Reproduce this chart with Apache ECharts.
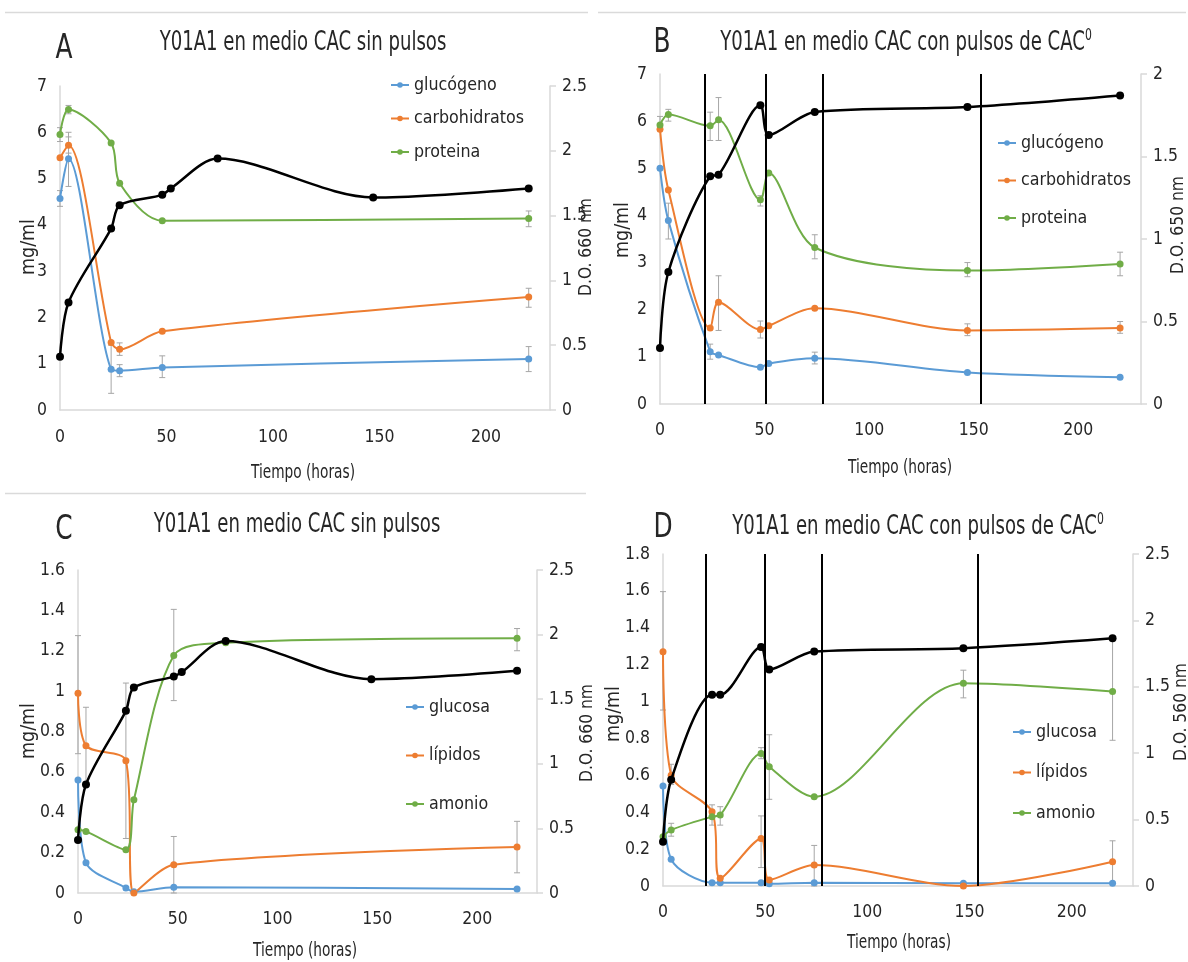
<!DOCTYPE html>
<html>
<head>
<meta charset="utf-8">
<script src="https://cdn.jsdelivr.net/npm/echarts@6/dist/echarts.min.js"></script>
<style>html,body{margin:0;padding:0;background:#fff}#c{width:1188px;height:962px}</style>
</head>
<body>
<div id="c"></div>
<script>
// ---------------- DATA ----------------
const hourAxis = [0, 230, 50];           // min, max, step (labels 0..200)
const leftAxisA = [0, 7, 1], rightAxisA = [0, 2.5, 0.5];
const leftAxisB = [0, 7, 1], rightAxisB = [0, 2, 0.5];
const leftAxisC = [0, 1.6, 0.2], rightAxisC = [0, 2.5, 0.5];
const leftAxisD = [0, 1.8, 0.2], rightAxisD = [0, 2.5, 0.5];

// Panel A
const tA = [0, 4, 24, 28, 48, 220];
const glucogenoA = [4.57, 5.43, 0.88, 0.85, 0.92, 1.10];
const carbohidratosA = [5.45, 5.72, 1.46, 1.31, 1.70, 2.44];
const proteinaA = [5.95, 6.49, 5.77, 4.90, 4.09, 4.14];
const tOD = [0, 4, 24, 28, 48, 52, 74, 147, 220];
const odA = [0.41, 0.83, 1.40, 1.58, 1.66, 1.71, 1.94, 1.64, 1.71];
const errorsA = [[0,4.40,4.74],[4,4.83,6.00],[24,0.36,1.40],[28,0.72,0.98],[48,0.70,1.17],[220,0.83,1.37],
  [4,5.55,5.90],[28,1.18,1.45],[220,2.22,2.63],[0,5.80,6.10],[4,6.40,6.58],[220,3.96,4.30]];

// Panel B
const tB = [0, 4, 24, 28, 48, 52, 74, 147, 220];
const glucogenoB = [5.00, 3.89, 1.11, 1.04, 0.78, 0.86, 0.97, 0.67, 0.57];
const carbohidratosB = [5.83, 4.54, 1.61, 2.16, 1.58, 1.66, 2.03, 1.56, 1.61];
const proteinaB = [5.92, 6.14, 5.90, 6.03, 4.33, 4.90, 3.32, 2.83, 2.97];
const odB = [0.34, 0.80, 1.38, 1.39, 1.81, 1.63, 1.77, 1.80, 1.87];
const pulsesB = [21.5, 50.5, 78, 153.5];
const errorsB = [[0,5.80,6.10],[4,6.00,6.25],[24,5.59,6.19],[28,5.59,6.50],[48,4.20,4.42],[74,3.08,3.59],
  [147,2.70,3.00],[220,2.72,3.22],[4,3.50,4.26],[24,0.95,1.27],[74,0.85,1.10],[28,1.56,2.72],
  [48,1.40,1.76],[147,1.45,1.70],[220,1.50,1.75]];

// Panel C
const tGlucosaC = [0, 4, 24, 28, 48, 220];
const glucosaC = [0.56, 0.15, 0.025, 0.006, 0.028, 0.02];
const tLipidosC = [0, 4, 24, 28, 48, 220];
const lipidosC = [0.99, 0.73, 0.655, 0.0, 0.14, 0.228];
const tAmonioC = [0, 4, 24, 28, 48, 74, 220];
const amonioC = [0.313, 0.305, 0.214, 0.462, 1.176, 1.24, 1.262];
const odC = [0.41, 0.84, 1.41, 1.59, 1.675, 1.71, 1.95, 1.655, 1.72];
const errorsC = [[0,0.69,1.275],[4,0.53,0.92],[24,0.27,1.04],[48,0.0,0.28],[48,0.953,1.405],
  [220,0.10,0.355],[220,1.20,1.31]];

// Panel D
const tD = [0, 4, 24, 28, 48, 52, 74, 147, 220];
const glucosaD = [0.542, 0.145, 0.018, 0.018, 0.018, 0.012, 0.018, 0.015, 0.015];
const lipidosD = [1.27, 0.60, 0.403, 0.042, 0.258, 0.033, 0.114, 0.0, 0.132];
const amonioD = [0.267, 0.304, 0.376, 0.385, 0.719, 0.647, 0.484, 1.099, 1.054];
const odD = [0.334, 0.80, 1.44, 1.44, 1.80, 1.63, 1.765, 1.79, 1.865];
const pulsesD = [21, 50, 77.5, 154];
const errorsD = [[0,0.954,1.596],[4,0.55,0.66],[24,0.33,0.44],[28,0.33,0.43],[4,0.27,0.34],
  [48,0.10,0.38],[48,0.69,0.75],[52,0.47,0.82],[74,0.0,0.22],[147,1.02,1.17],[220,0.79,1.343],[220,0.02,0.245]];

// ---------------- FONTS ----------------
const ctx = document.createElement('canvas').getContext('2d');
function w(font, s) { ctx.font = font; return ctx.measureText(s).width; }
function pickFont() {
  const s = 'mmmmwwwwiiiiAB0123456789';
  const m = w('40px monospace', s), se = w('40px serif', s);
  for (const f of ['Liberation Sans Narrow', 'DejaVu Sans Condensed', 'Liberation Sans']) {
    if (w("40px '" + f + "', monospace", s) !== m || w("40px '" + f + "', serif", s) !== se) return f;
  }
  return 'sans-serif';
}
const FONT = pickFont();
function fit(s, target) { return 100 * target / w("100px '" + FONT + "'", s); }
const fs = {
  tick: fit('200', 30), legend: fit('carbohidratos', 110), xname: fit('Tiempo (horas)', 104),
  title: fit('Y01A1 en medio CAC sin pulsos', 287), yname: fit('mg/ml', 56),
  odname: fit('D.O. 660 nm', 98), letter: fit('A', 17)
};
const TXT = '#262626', AX = '#D9D9D9';
const BLUE = '#5B9BD5', ORANGE = '#ED7D31', GREEN = '#70AD47';
const SMOOTH = 0.3;

// ---------------- LAYOUT ----------------
const grids = [
  {left: 60, top: 86, width: 490, height: 324},
  {left: 660, top: 74, width: 481, height: 330},
  {left: 78, top: 570, width: 459, height: 323},
  {left: 663, top: 554, width: 470, height: 332}
];
const xMargins = [19, 18, 17.5, 17.5];

const xAxes = grids.map((g, i) => ({
  type: 'value', gridIndex: i, min: hourAxis[0], max: hourAxis[1], interval: hourAxis[2],
  axisLine: {show: true, onZero: false, lineStyle: {color: AX, width: 1.5}},
  axisTick: {show: false}, splitLine: {show: false},
  axisLabel: {margin: xMargins[i], fontSize: fs.tick, fontFamily: FONT, color: TXT, showMaxLabel: false}
}));
const leftDefs = [leftAxisA, leftAxisB, leftAxisC, leftAxisD];
const rightDefs = [rightAxisA, rightAxisB, rightAxisC, rightAxisD];
const yAxes = [];
grids.forEach((g, i) => {
  yAxes.push({
    type: 'value', gridIndex: i, position: 'left', min: leftDefs[i][0], max: leftDefs[i][1], interval: leftDefs[i][2],
    axisLine: {show: true, lineStyle: {color: AX, width: 1.5}}, axisTick: {show: false}, splitLine: {show: false},
    axisLabel: {margin: 13, fontSize: fs.tick, fontFamily: FONT, color: TXT}
  });
  yAxes.push({
    type: 'value', gridIndex: i, position: 'right', min: rightDefs[i][0], max: rightDefs[i][1], interval: rightDefs[i][2],
    axisLine: {show: true, lineStyle: {color: AX, width: 1.5}},
    axisTick: {show: true, length: 6, lineStyle: {color: AX, width: 1.5}}, splitLine: {show: false},
    axisLabel: {margin: 12, fontSize: fs.tick, fontFamily: FONT, color: TXT}
  });
});

function pts(ts, vals) { return ts.map((t, k) => [t, vals[k]]); }
function line(name, ts, vals, color, gi) {
  return {
    type: 'line', name, xAxisIndex: gi, yAxisIndex: 2 * gi, data: pts(ts, vals), smooth: SMOOTH,
    symbol: 'circle', symbolSize: 7, showSymbol: true, lineStyle: {color, width: 2},
    itemStyle: {color}, emphasis: {disabled: true}, z: 3, animation: false
  };
}
function od(vals, gi, pulses) {
  const s = {
    type: 'line', name: 'D.O.', xAxisIndex: gi, yAxisIndex: 2 * gi + 1, data: pts(tOD, vals), smooth: SMOOTH,
    symbol: 'circle', symbolSize: 8, lineStyle: {color: '#000', width: 2.5}, itemStyle: {color: '#000'},
    emphasis: {disabled: true}, z: 4, animation: false
  };
  if (pulses) {
    s.markLine = {
      silent: true, symbol: ['none', 'none'], label: {show: false}, animation: false,
      lineStyle: {color: '#000', width: 2, type: 'solid'}, emphasis: {disabled: true},
      data: pulses.map(v => ({xAxis: v}))
    };
  }
  return s;
}
function errs(data, gi) {
  return {
    type: 'custom', xAxisIndex: gi, yAxisIndex: 2 * gi, data, z: 2, silent: true, animation: false,
    encode: {x: 0, y: [1, 2]},
    renderItem: function (params, api) {
      const x = api.value(0), lo = api.value(1), hi = api.value(2);
      const a = api.coord([x, hi]), b = api.coord([x, lo]);
      const st = {stroke: '#A6A6A6', lineWidth: 1};
      return {type: 'group', children: [
        {type: 'line', shape: {x1: a[0], y1: a[1], x2: b[0], y2: b[1]}, style: st},
        {type: 'line', shape: {x1: a[0] - 3, y1: a[1], x2: a[0] + 3, y2: a[1]}, style: st},
        {type: 'line', shape: {x1: b[0] - 3, y1: b[1], x2: b[0] + 3, y2: b[1]}, style: st}
      ]};
    }
  };
}

const series = [
  errs(errorsA, 0),
  line('glucógeno', tA, glucogenoA, BLUE, 0),
  line('carbohidratos', tA, carbohidratosA, ORANGE, 0),
  line('proteina', tA, proteinaA, GREEN, 0),
  od(odA, 0),
  errs(errorsB, 1),
  line('glucógeno', tB, glucogenoB, BLUE, 1),
  line('carbohidratos', tB, carbohidratosB, ORANGE, 1),
  line('proteina', tB, proteinaB, GREEN, 1),
  od(odB, 1, pulsesB),
  errs(errorsC, 2),
  line('glucosa', tGlucosaC, glucosaC, BLUE, 2),
  line('lípidos', tLipidosC, lipidosC, ORANGE, 2),
  line('amonio', tAmonioC, amonioC, GREEN, 2),
  od(odC, 2),
  errs(errorsD, 3),
  line('glucosa', tD, glucosaD, BLUE, 3),
  line('lípidos', tD, lipidosD, ORANGE, 3),
  line('amonio', tD, amonioD, GREEN, 3),
  od(odD, 3, pulsesD)
];

const LH = Math.round(fs.legend + 2);
function legend(names, left, firstCenter, spacing) {
  return {
    data: names, orient: 'vertical', left, top: firstCenter - LH / 2, padding: 0,
    itemWidth: 18, itemHeight: 7, itemGap: spacing - LH, selectedMode: false,
    textStyle: {fontSize: fs.legend, fontFamily: FONT, color: TXT, lineHeight: LH}
  };
}
const legends = [
  legend(['glucógeno', 'carbohidratos', 'proteina'], 390, 85, 33.5),
  legend(['glucógeno', 'carbohidratos', 'proteina'], 997, 143, 37.5),
  legend(['glucosa', 'lípidos', 'amonio'], 405, 707, 48.5),
  legend(['glucosa', 'lípidos', 'amonio'], 1012, 732, 40.5)
];

function txt(text, x, y, size, rot, sy, extra) {
  const st = {text, fontSize: size, fontFamily: FONT, fill: TXT, align: 'center', verticalAlign: 'middle',
    textAlign: 'center', textVerticalAlign: 'middle'};
  if (extra) Object.assign(st, extra);
  const el = {type: 'text', x, y, rotation: rot || 0, silent: true, style: st};
  if (sy) el.scaleY = sy;
  return el;
}
const supRich = {sup: {fontSize: fs.title * 0.6, fontFamily: FONT, fill: TXT, padding: [0, 0, fs.title * 0.55, 0]}};
function hline(x1, x2, y) {
  return {type: 'line', silent: true, shape: {x1, y1: y, x2, y2: y}, style: {stroke: '#DADADA', lineWidth: 1.5}};
}
const R = Math.PI / 2, TS = 1.3;
const graphics = [
  hline(5, 588, 12.5), hline(598, 1186, 12.5), hline(5, 586, 493.5),
  txt('Y01A1 en medio CAC sin pulsos', 303, 43, fs.title, 0, TS),
  txt('Y01A1 en medio CAC con pulsos de CAC{sup|0}', 906, 43, fs.title, 0, TS, {rich: supRich}),
  txt('Y01A1 en medio CAC sin pulsos', 297, 525, fs.title, 0, TS),
  txt('Y01A1 en medio CAC con pulsos de CAC{sup|0}', 918, 527, fs.title, 0, TS, {rich: supRich}),
  txt('A', 64, 49, fs.letter, 0, 1.25), txt('B', 662, 43, fs.letter, 0, 1.25),
  txt('C', 64, 530, fs.letter, 0, 1.25), txt('D', 663, 528, fs.letter, 0, 1.25),
  txt('mg/ml', 29, 247, fs.yname, R), txt('mg/ml', 623, 230, fs.yname, R),
  txt('mg/ml', 29, 731, fs.yname, R), txt('mg/ml', 614, 714, fs.yname, R),
  txt('D.O. 660 nm', 587, 247, fs.odname, R), txt('D.O. 650 nm', 1179, 225, fs.odname, R),
  txt('D.O. 660 nm', 588, 733, fs.odname, R), txt('D.O. 560 nm', 1182, 712, fs.odname, R),
  txt('Tiempo (horas)', 303, 473, fs.xname, 0, TS), txt('Tiempo (horas)', 900, 468, fs.xname, 0, TS),
  txt('Tiempo (horas)', 305, 951, fs.xname, 0, TS), txt('Tiempo (horas)', 899, 943, fs.xname, 0, TS)
];

const chart = echarts.init(document.getElementById('c'), null, {renderer: 'canvas'});
chart.setOption({
  backgroundColor: '#fff', animation: false,
  grid: grids.map(g => Object.assign({outerBoundsMode: 'none', containLabel: false}, g)),
  xAxis: xAxes, yAxis: yAxes, legend: legends, series, graphic: graphics,
  textStyle: {fontFamily: FONT}
});
</script>
</body>
</html>
